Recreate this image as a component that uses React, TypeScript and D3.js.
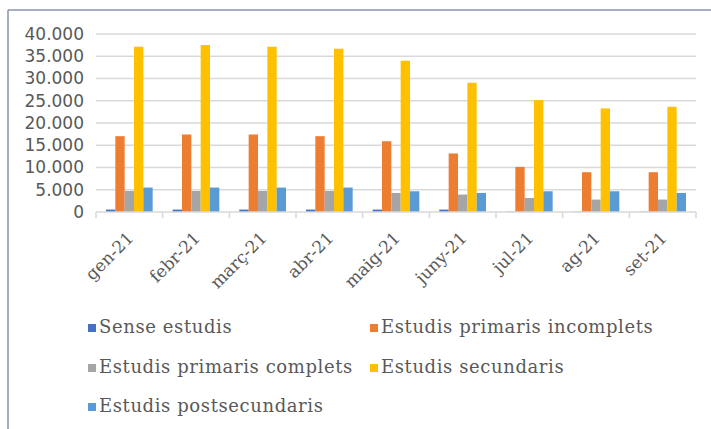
import React from 'react';
import * as d3 from 'd3';

// months on the x axis
const months = ['gen-21', 'febr-21', 'març-21', 'abr-21', 'maig-21', 'juny-21', 'jul-21', 'ag-21', 'set-21'];

// one array per education level
const senseEstudis = [540, 540, 540, 540, 540, 540, 80, 80, 80];
const primarisIncomplets = [17040, 17420, 17420, 17040, 15900, 13150, 10130, 8940, 8940];
const primarisComplets = [4730, 4730, 4730, 4730, 4280, 3920, 3150, 2790, 2790];
const secundaris = [37140, 37520, 37140, 36690, 33990, 29040, 25140, 23280, 23640];
const postsecundaris = [5490, 5490, 5490, 5490, 4660, 4280, 4660, 4660, 4280];

const seriesNames = [
  'Sense estudis',
  'Estudis primaris incomplets',
  'Estudis primaris complets',
  'Estudis secundaris',
  'Estudis postsecundaris',
];
const seriesValues = [senseEstudis, primarisIncomplets, primarisComplets, secundaris, postsecundaris];
const colors = ['#4472C4', '#ED7D31', '#A5A5A5', '#FFC000', '#5B9BD5'];

const yTicks = [0, 5000, 10000, 15000, 20000, 25000, 30000, 35000, 40000];

export default function App() {
  const width = 711;
  const height = 429;
  const margin = { left: 96, right: 15, top: 34, bottom: 217 };

  const x0 = d3
    .scaleBand<string>()
    .domain(months)
    .range([margin.left, width - margin.right])
    .paddingInner(0.3)
    .paddingOuter(0.15);
  const x1 = d3
    .scaleBand<string>()
    .domain(seriesNames)
    .range([0, x0.bandwidth()]);
  const y = d3
    .scaleLinear()
    .domain([0, 40000])
    .range([height - margin.bottom, margin.top]);

  const fmt = (v: number) => d3.format(',')(v).replace(/,/g, '.');
  const step = x0.step();
  const boundaries = d3.range(months.length + 1).map((i) => margin.left + i * step);

  // legend layout: two columns, three rows
  const legendPos = [
    [88, 327],
    [370, 327],
    [88, 367],
    [370, 367],
    [88, 406],
  ];

  return (
    <svg
      width={width}
      height={height}
      style={{ position: 'absolute', left: 0, top: 0, background: '#fff' }}
    >
      {/* chart frame */}
      <line x1={8} x2={width} y1={10} y2={10} stroke="#8a92b2" strokeWidth={1.5} />
      <line x1={8} x2={8} y1={10} y2={height} stroke="#8a92b2" strokeWidth={1.5} />

      {/* gridlines + y labels */}
      <g>
        {yTicks.map((t) => (
          <g key={t}>
            {t > 0 && (
              <line
                x1={margin.left}
                x2={boundaries[boundaries.length - 1]}
                y1={y(t)}
                y2={y(t)}
                stroke="#d9d9d9"
                strokeWidth={1.5}
              />
            )}
            <text
              x={84}
              y={y(t)}
              dy="0.35em"
              textAnchor="end"
              fontFamily="DejaVu Sans"
              fontSize={17}
              fill="#595959"
            >
              {fmt(t)}
            </text>
          </g>
        ))}
      </g>

      {/* bars */}
      <g>
        {months.map((m, i) => (
          <g key={m} transform={`translate(${x0(m)},0)`}>
            {seriesNames.map((s, j) => (
              <rect
                key={s}
                x={x1(s)}
                y={y(seriesValues[j][i])}
                width={x1.bandwidth()}
                height={y(0) - y(seriesValues[j][i])}
                fill={colors[j]}
              />
            ))}
          </g>
        ))}
      </g>

      {/* x axis */}
      <g>
        <line
          x1={margin.left}
          x2={boundaries[boundaries.length - 1]}
          y1={y(0)}
          y2={y(0)}
          stroke="#d9d9d9"
          strokeWidth={1.5}
        />
        {boundaries.map((b, i) => (
          <line key={i} x1={b} x2={b} y1={y(0)} y2={y(0) + 6} stroke="#d9d9d9" strokeWidth={1.5} />
        ))}
        {months.map((m) => (
          <text
            key={m}
            transform={`translate(${(x0(m) as number) + x0.bandwidth() / 2 + 1},${y(0) + 23}) rotate(-45)`}
            textAnchor="end"
            dy="0.35em"
            fontFamily="DejaVu Serif"
            fontSize={17}
            fill="#595959"
          >
            {m}
          </text>
        ))}
      </g>

      {/* legend */}
      <g>
        {seriesNames.map((s, j) => (
          <g key={s} transform={`translate(${legendPos[j][0]},${legendPos[j][1]})`}>
            <rect x={0} y={-3} width={8} height={8} fill={colors[j]} />
            <text
              x={11}
              y={0}
              dy="0.35em"
              fontFamily="DejaVu Serif"
              fontSize={18}
              letterSpacing={0.6}
              fill="#595959"
            >
              {s}
            </text>
          </g>
        ))}
      </g>
    </svg>
  );
}
